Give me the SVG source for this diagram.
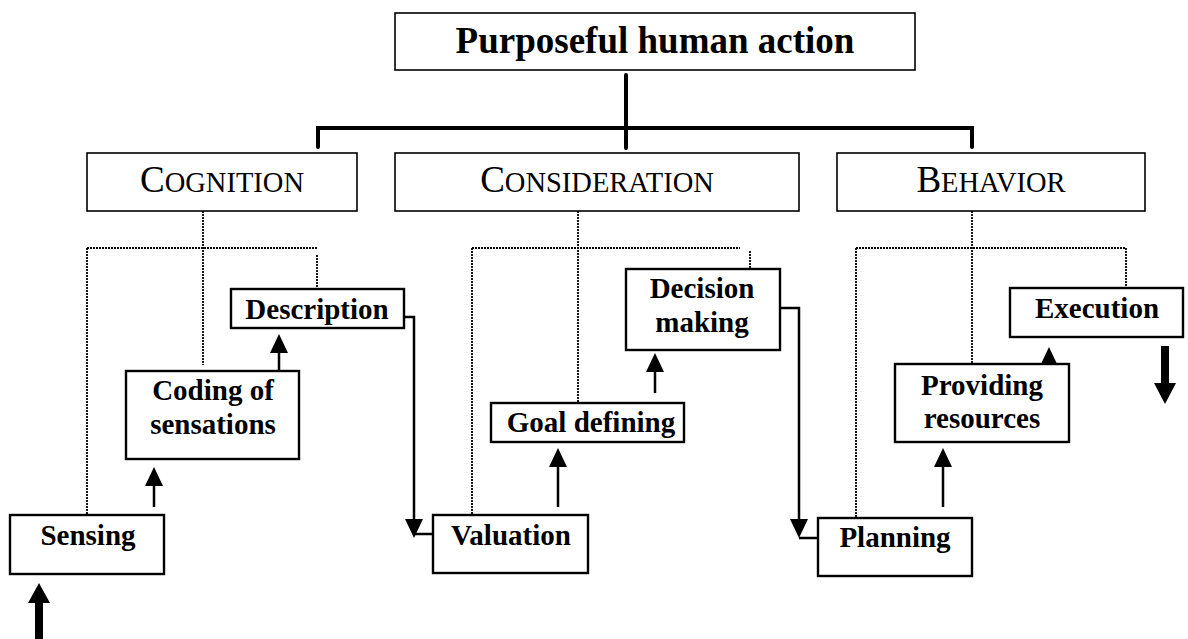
<svg xmlns="http://www.w3.org/2000/svg" width="1188" height="639" viewBox="0 0 1188 639">
<style>
  .bg { fill: #ffffff; }
  .box { fill: #ffffff; stroke: #000; stroke-width: 1.6; }
  .nbox { fill: #ffffff; stroke: #000; stroke-width: 2.4; }
  .title { font-family: "Liberation Serif", "Times New Roman", serif; font-weight: bold; font-size: 37px; text-anchor: middle; fill: #000; }
  .cat { font-family: "Liberation Serif", "Times New Roman", serif; font-size: 28.5px; text-anchor: middle; fill: #000; }
  .big { font-size: 37px; }
  .lbl { font-family: "Liberation Serif", "Times New Roman", serif; font-weight: bold; font-size: 29px; text-anchor: middle; fill: #000; }
  .thick { fill: none; stroke: #000; stroke-width: 4; stroke-linecap: round; }
  .dot { fill: none; stroke: #000; stroke-width: 1.8; stroke-dasharray: 2 1; }
  .arr { fill: none; stroke: #000; stroke-width: 2.5; marker-end: url(#ah); }
  .plain { fill: none; stroke: #000; stroke-width: 2.5; }
  .fat { fill: #000; stroke: none; }
</style>
<defs>
  <marker id="ah" markerUnits="userSpaceOnUse" markerWidth="19" markerHeight="18" viewBox="0 0 19 18" refX="11" refY="9" orient="auto">
    <path d="M0,0 L19,9 L0,18 z" fill="#000"/>
  </marker>
</defs>
<rect class="bg" x="0" y="0" width="1188" height="639"/>

<g id="connectors">
  <path class="thick" d="M318,147 L318,128 L972,128 L972,147"/>
  <path class="thick" d="M626,75 L626,148"/>
  <!-- cognition dotted -->
  <path class="dot" d="M203,211 L203,365 M87,248 L318,248 M87,248 L87,515 M317,255 L317,289"/>
  <!-- consideration dotted -->
  <path class="dot" d="M578,211 L578,410 M472,248 L740,248 M472,248 L472,515 M750,251 L750,269"/>
  <!-- behavior dotted -->
  <path class="dot" d="M972,211 L972,364 M856,248 L1125,248 M856,248 L856,518 M1126,248 L1126,288"/>
  <!-- up arrows -->
  <line class="arr" x1="154" y1="507" x2="154" y2="475"/>
  <line class="arr" x1="279" y1="373" x2="279" y2="342"/>
  <line class="arr" x1="558" y1="507" x2="558" y2="456"/>
  <line class="arr" x1="655" y1="393" x2="655" y2="361"/>
  <line class="arr" x1="943" y1="507" x2="943" y2="456"/>
  <line class="arr" x1="1049" y1="364" x2="1049" y2="355"/>
  <!-- down corner arrows -->
  <polyline class="arr" points="395,317 414,317 414,530"/>
  <line class="plain" x1="414" y1="534" x2="433" y2="534"/>
  <polyline class="arr" points="780,308 799,308 799,530"/>
  <line class="plain" x1="799" y1="538" x2="818" y2="538"/>
  <!-- fat arrows -->
  <polygon class="fat" points="35,639 35,603 28,603 39,583 50,603 43,603 43,639"/>
  <polygon class="fat" points="1161,346 1169,346 1169,383 1176,383 1165,404 1154,383 1161,383"/>
</g>

<g id="node-purposeful">
  <rect class="box" x="395" y="13" width="520" height="57"/>
  <text class="title" x="655" y="53">Purposeful human action</text>
</g>
<g id="node-cognition">
  <rect class="box" x="87" y="153" width="270" height="58"/>
  <text class="cat" x="222" y="192"><tspan class="big">C</tspan>OGNITION</text>
</g>
<g id="node-consideration">
  <rect class="box" x="395" y="153" width="404" height="58"/>
  <text class="cat" x="597" y="192"><tspan class="big">C</tspan>ONSIDERATION</text>
</g>
<g id="node-behavior">
  <rect class="box" x="837" y="153" width="308" height="58"/>
  <text class="cat" x="991" y="192"><tspan class="big">B</tspan>EHAVIOR</text>
</g>
<g id="node-sensing">
  <rect class="nbox" x="10" y="515" width="154" height="59"/>
  <text class="lbl" x="88" y="545">Sensing</text>
</g>
<g id="node-coding">
  <rect class="nbox" x="126" y="371" width="173" height="88"/>
  <text class="lbl" x="213" y="400">Coding of</text>
  <text class="lbl" x="213" y="434">sensations</text>
</g>
<g id="node-description">
  <rect class="nbox" x="231" y="289" width="173" height="39"/>
  <text class="lbl" x="317" y="319">Description</text>
</g>
<g id="node-valuation">
  <rect class="nbox" x="433" y="515" width="155" height="58"/>
  <text class="lbl" x="511" y="545">Valuation</text>
</g>
<g id="node-goal">
  <rect class="nbox" x="491" y="403" width="193" height="39"/>
  <text class="lbl" x="591" y="432">Goal defining</text>
</g>
<g id="node-decision">
  <rect class="nbox" x="626" y="269" width="154" height="81"/>
  <text class="lbl" x="702" y="298">Decision</text>
  <text class="lbl" x="702" y="332">making</text>
</g>
<g id="node-planning">
  <rect class="nbox" x="818" y="518" width="154" height="58"/>
  <text class="lbl" x="895" y="547">Planning</text>
</g>
<g id="node-providing">
  <rect class="nbox" x="895" y="364" width="174" height="78"/>
  <text class="lbl" x="982" y="395">Providing</text>
  <text class="lbl" x="982" y="428">resources</text>
</g>
<g id="node-execution">
  <rect class="nbox" x="1010" y="288" width="173" height="49"/>
  <text class="lbl" x="1097" y="318">Execution</text>
</g>
</svg>
